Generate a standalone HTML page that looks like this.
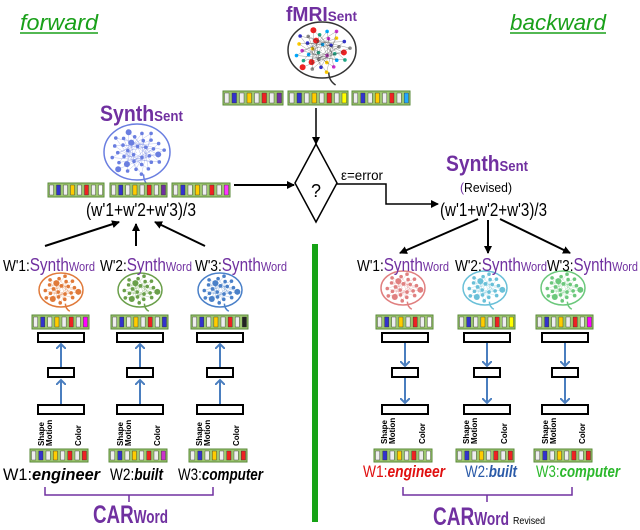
<!DOCTYPE html>
<html><head><meta charset="utf-8"><style>
body{margin:0;background:#fff}
svg{display:block;font-family:"Liberation Sans",sans-serif}
</style></head><body>
<svg id="s" width="640" height="530" viewBox="0 0 640 530" xmlns="http://www.w3.org/2000/svg">
<defs>
<marker id="ab" markerWidth="8" markerHeight="8" refX="7" refY="4" orient="auto" markerUnits="userSpaceOnUse"><path d="M0,0 L8,4 L0,8 z" fill="#000"/></marker>
<marker id="ablue" markerWidth="10" markerHeight="10" refX="5" refY="5" orient="auto" markerUnits="userSpaceOnUse"><path d="M0,0 L5,5 L0,10" fill="none" stroke="#4a7ebf" stroke-width="2"/></marker>
</defs>
<text x="20" y="30" font-size="22" font-style="italic" fill="#1aa01a" textLength="78" lengthAdjust="spacingAndGlyphs">forward</text>
<line x1="20" y1="33" x2="98" y2="33" stroke="#1aa01a" stroke-width="1.5"/>
<text x="510" y="30" font-size="22" font-style="italic" fill="#1aa01a" textLength="96" lengthAdjust="spacingAndGlyphs">backward</text>
<line x1="510" y1="33" x2="606" y2="33" stroke="#1aa01a" stroke-width="1.5"/>

<text x="286" y="21" font-size="20" font-weight="bold" fill="#7030a0" textLength="71" lengthAdjust="spacingAndGlyphs">fMRI<tspan font-size="14">Sent</tspan></text>
<text x="100" y="121" font-size="22" font-weight="bold" fill="#7030a0" textLength="83" lengthAdjust="spacingAndGlyphs">Synth<tspan font-size="15">Sent</tspan></text>
<text x="446" y="171" font-size="22" font-weight="bold" fill="#7030a0" textLength="82" lengthAdjust="spacingAndGlyphs">Synth<tspan font-size="15">Sent</tspan></text>
<text x="460" y="192" font-size="13" textLength="52" lengthAdjust="spacingAndGlyphs"><tspan fill="#7030a0">(</tspan>Revised)</text>
<text x="86" y="216" font-size="18" textLength="110" lengthAdjust="spacingAndGlyphs">(w'1+w'2+w'3)/3</text>
<text x="440" y="216" font-size="18" textLength="107" lengthAdjust="spacingAndGlyphs">(w'1+w'2+w'3)/3</text>

<g id="brains"></g>
<g id="strips"></g>

<line x1="316" y1="108" x2="316" y2="144" stroke="#000" stroke-width="1.5" marker-end="url(#ab)"/>
<polygon points="316,144 337,183 316,222 295,183" fill="#fff" stroke="#000" stroke-width="1.5"/>
<text x="316" y="197" font-size="18" text-anchor="middle">?</text>
<line x1="234" y1="185" x2="294" y2="185" stroke="#000" stroke-width="2" marker-end="url(#ab)"/>
<text x="341" y="180" font-size="14" textLength="42" lengthAdjust="spacingAndGlyphs">ε=error</text>
<polyline points="337,184 386,184 386,204 438,204" fill="none" stroke="#000" stroke-width="1.5" marker-end="url(#ab)"/>

<g stroke="#000" stroke-width="2" marker-end="url(#ab)">
<line x1="45" y1="246" x2="119" y2="222"/>
<line x1="136" y1="246" x2="136" y2="224"/>
<line x1="205" y1="246" x2="155" y2="222"/>
<line x1="478" y1="219" x2="400" y2="253"/>
<line x1="488" y1="220" x2="488" y2="253"/>
<line x1="500" y1="219" x2="570" y2="253"/>
</g>
<rect x="312" y="244" width="6" height="278" fill="#16a316"/>

<g font-size="16">
<text x="3" y="271" textLength="92" lengthAdjust="spacingAndGlyphs">W'1:<tspan fill="#7030a0" font-size="18">Synth</tspan><tspan fill="#7030a0" font-size="13">Word</tspan></text>
<text x="100" y="271" textLength="92" lengthAdjust="spacingAndGlyphs">W'2:<tspan fill="#7030a0" font-size="18">Synth</tspan><tspan fill="#7030a0" font-size="13">Word</tspan></text>
<text x="195" y="271" textLength="92" lengthAdjust="spacingAndGlyphs">W'3:<tspan fill="#7030a0" font-size="18">Synth</tspan><tspan fill="#7030a0" font-size="13">Word</tspan></text>
<text x="357" y="271" textLength="92" lengthAdjust="spacingAndGlyphs">W'1:<tspan fill="#7030a0" font-size="18">Synth</tspan><tspan fill="#7030a0" font-size="13">Word</tspan></text>
<text x="455" y="271" textLength="92" lengthAdjust="spacingAndGlyphs">W'2:<tspan fill="#7030a0" font-size="18">Synth</tspan><tspan fill="#7030a0" font-size="13">Word</tspan></text>
<text x="547" y="271" textLength="91" lengthAdjust="spacingAndGlyphs">W'3:<tspan fill="#7030a0" font-size="18">Synth</tspan><tspan fill="#7030a0" font-size="13">Word</tspan></text>
</g>
<g font-size="17">
<text x="3" y="480" textLength="97" lengthAdjust="spacingAndGlyphs">W1:<tspan font-weight="bold" font-style="italic">engineer</tspan></text>
<text x="110" y="480" textLength="53" lengthAdjust="spacingAndGlyphs">W2:<tspan font-weight="bold" font-style="italic">built</tspan></text>
<text x="178" y="480" textLength="85" lengthAdjust="spacingAndGlyphs">W3:<tspan font-weight="bold" font-style="italic">computer</tspan></text>
<text x="363" y="477" fill="#e01010" textLength="82" lengthAdjust="spacingAndGlyphs">W1:<tspan font-weight="bold" font-style="italic">engineer</tspan></text>
<text x="465" y="477" fill="#2a5aa8" textLength="52" lengthAdjust="spacingAndGlyphs">W2:<tspan font-weight="bold" font-style="italic">built</tspan></text>
<text x="536" y="477" fill="#2cb82c" textLength="84" lengthAdjust="spacingAndGlyphs">W3:<tspan font-weight="bold" font-style="italic">computer</tspan></text>
</g>
<g fill="none" stroke="#7030a0" stroke-width="1.5">
<polyline points="45,487 45,495 213,495 213,487"/><line x1="129" y1="495" x2="129" y2="502"/>
<polyline points="403,487 403,495 572,495 572,487"/><line x1="487" y1="495" x2="487" y2="502"/>
</g>
<text x="93" y="523" font-size="25" font-weight="bold" fill="#7030a0" textLength="75" lengthAdjust="spacingAndGlyphs">CAR<tspan font-size="18">Word</tspan></text>
<text x="433" y="525" font-size="25" font-weight="bold" fill="#7030a0" textLength="76" lengthAdjust="spacingAndGlyphs">CAR<tspan font-size="18">Word</tspan></text>
<text x="513" y="524" font-size="10" textLength="32" lengthAdjust="spacingAndGlyphs">Revised</text>

<g id="cols"></g>
<g font-size="8" font-weight="bold">
<text transform="translate(44,446) rotate(-90)">Shape</text><text transform="translate(52,446) rotate(-90)">Motion</text><text transform="translate(81,446) rotate(-90)">Color</text>
<text transform="translate(123,446) rotate(-90)">Shape</text><text transform="translate(131,446) rotate(-90)">Motion</text><text transform="translate(160,446) rotate(-90)">Color</text>
<text transform="translate(202,446) rotate(-90)">Shape</text><text transform="translate(210,446) rotate(-90)">Motion</text><text transform="translate(239,446) rotate(-90)">Color</text>
<text transform="translate(387,444) rotate(-90)">Shape</text><text transform="translate(395,444) rotate(-90)">Motion</text><text transform="translate(425,444) rotate(-90)">Color</text>
<text transform="translate(469,444) rotate(-90)">Shape</text><text transform="translate(477,444) rotate(-90)">Motion</text><text transform="translate(507,444) rotate(-90)">Color</text>
<text transform="translate(548,444) rotate(-90)">Shape</text><text transform="translate(556,444) rotate(-90)">Motion</text><text transform="translate(585,444) rotate(-90)">Color</text>
</g>
</svg>
<script>
var NS="http://www.w3.org/2000/svg";
function el(p,n,a){var e=document.createElementNS(NS,n);for(var k in a)e.setAttribute(k,a[k]);document.getElementById(p).appendChild(e);return e;}
function strip(x,y,w,h,cols){
  el("strips","rect",{x:x,y:y,width:w,height:h,fill:"#9dc76f",stroke:"#5a8a3a","stroke-width":1});
  var n=cols.length,cw=w/n;
  for(var i=0;i<n;i++){
    el("strips","rect",{x:x+i*cw+1.5,y:y+2,width:cw-3,height:h-4,fill:cols[i],stroke:"#333","stroke-width":0.4});
  }
}
var P=["#fff","#ff0","#0af","#e22","#222","#33c","#c3c","#f0f","#8c4","#fc0"];
function rc(n,last){var a=[];for(var i=0;i<n-1;i++)a.push(i%2?P[(i*7+n)%P.length]:"#eee");a.push(last);return a;}
strip(223,91,60,14,rc(8,"#7030a0"));strip(288,91,60,14,rc(8,"#ff0"));strip(352,91,58,14,rc(8,"#2af"));
strip(48,183,56,14,rc(8,"#fff"));strip(110,183,57,14,rc(8,"#7030a0"));strip(172,183,58,14,rc(8,"#f3f"));
function brain(cx,cy,rx,ry,col,g,dr){
  el("brains","ellipse",{cx:cx,cy:cy,rx:rx,ry:ry,fill:"#fff",stroke:col,"stroke-width":1.5});
  el("brains","path",{d:"M"+(cx+rx*0.2)+","+(cy+ry*0.8)+" q0,"+ry*0.3+" "+rx*0.2+","+ry*0.45,fill:"none",stroke:col,"stroke-width":1.5});
  for(var i=0;i<g;i++){var a=i*2.4,r=Math.sqrt(i/g)*0.85;
    el("brains","circle",{cx:cx+Math.cos(a)*r*rx,cy:cy+Math.sin(a)*r*ry,r:dr||1.6,fill:Array.isArray(col)?col[i%col.length]:col});
  }
}
function brainC(cx,cy,rx,ry,stroke,cols,g){
  el("brains","ellipse",{cx:cx,cy:cy,rx:rx,ry:ry,fill:"#fff",stroke:stroke,"stroke-width":1.5});
  el("brains","path",{d:"M"+(cx+rx*0.2)+","+(cy+ry*0.8)+" q0,"+ry*0.3+" "+rx*0.2+","+ry*0.45,fill:"none",stroke:stroke,"stroke-width":1.5});
  for(var i=1;i<g;i++){var a=i*2.4,r=Math.sqrt(i/g)*0.85,a2=(i-1)*2.4,r2=Math.sqrt((i-1)/g)*0.85;
    el("brains","line",{x1:cx+Math.cos(a)*r*rx,y1:cy+Math.sin(a)*r*ry,x2:cx+Math.cos(a2)*r2*rx,y2:cy+Math.sin(a2)*r2*ry,stroke:stroke,"stroke-width":0.4,opacity:0.6});
    el("brains","circle",{cx:cx+Math.cos(a)*r*rx,cy:cy+Math.sin(a)*r*ry,r:(i%7==0)?3:1.8,fill:cols[i%cols.length]});
  }
}
brainC(322,50,34,28,"#333",["#e22","#2a8","#0af","#c3c","#fc0","#33c","#888"],36);
brainC(137,152,33,28,"#6a7ee0",["#6a7ee0"],36);
var L=[[61,"#e07a3a"],[140,"#6a9f4a"],[220,"#4a80c8"]],R=[[405,"#e08080"],[487,"#6ac0d8"],[565,"#6cc87c"]];
L.forEach(function(c){brainC(c[0],290,22,17,c[1],[c[1]],24);});
R.forEach(function(c){brainC(c[0]-2,288,22,17,c[1],[c[1]],24);});
function col(cx,down){
  strip(cx-29,315,57,14,rc(8,P[(cx)%9]));
  el("cols","rect",{x:cx-23,y:333,width:46,height:9,fill:"#fff",stroke:"#000","stroke-width":2});
  el("cols","rect",{x:cx-13,y:368,width:26,height:9,fill:"#fff",stroke:"#000","stroke-width":2});
  el("cols","rect",{x:cx-23,y:405,width:46,height:9,fill:"#fff",stroke:"#000","stroke-width":2});
  var ar={stroke:"#4a7ebf","stroke-width":2,"marker-end":"url(#ablue)"};
  if(down){
    el("cols","line",Object.assign({x1:cx,y1:343,x2:cx,y2:366},ar));
    el("cols","line",Object.assign({x1:cx,y1:378,x2:cx,y2:403},ar));
  } else {
    el("cols","line",Object.assign({x1:cx,y1:404,x2:cx,y2:380},ar));
    el("cols","line",Object.assign({x1:cx,y1:367,x2:cx,y2:344},ar));
  }
  strip(cx-31,449,58,13,rc(8,P[(cx*3)%9]));
}
L.forEach(function(c){col(c[0],false);});
R.forEach(function(c){col(c[0],true);});
</script>
</body></html>
